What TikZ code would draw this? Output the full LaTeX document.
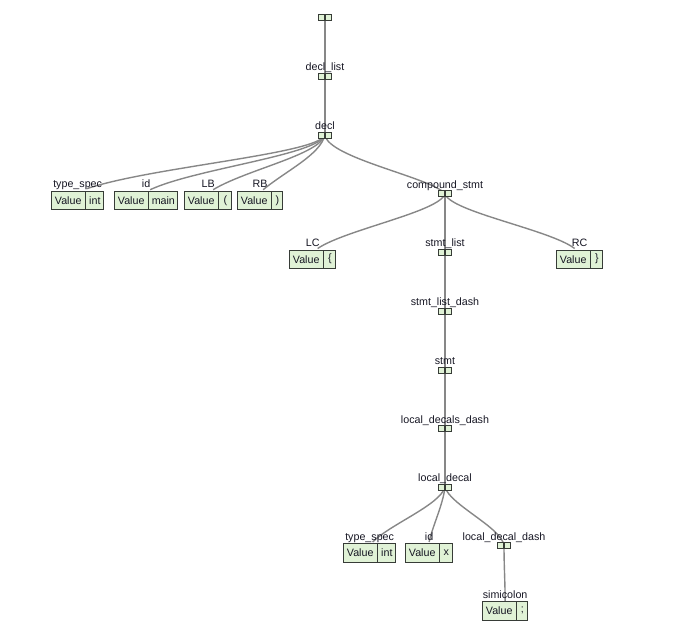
\documentclass[tikz,border=0pt]{standalone}
\usepackage{fontspec}
\setmainfont{Liberation Sans}
\usetikzlibrary{calc,backgrounds}
\definecolor{boxfill}{RGB}{224,242,214}
\definecolor{boxline}{RGB}{55,60,55}
\definecolor{edgecol}{RGB}{135,135,135}
\definecolor{txt}{RGB}{22,22,35}
\tikzset{
  lbl/.style={inner sep=0pt, font=\fontsize{10.7}{12}\selectfont, text=txt, anchor=base},
  field/.style={draw=boxline, fill=boxfill, line width=0.9pt, inner sep=0pt,
    minimum height=18.5pt, anchor=north west, font=\fontsize{10.7}{12}\selectfont, text=txt},
  port/.style={draw=boxline, fill=boxfill, line width=0.9pt, inner sep=0pt,
    minimum width=6pt, minimum height=6pt},
  conn/.style={draw=edgecol, line width=1.4pt},
}
% inner tree node: name, x, y (centre), label
\newcommand\treenode[4]{%
  \node[port, anchor=east] (#1a) at (#2,#3) {};
  \node[port, anchor=west] (#1b) at (#2,#3) {};
  \coordinate (#1) at (#2,#3);
  \node[lbl] (#1l) at (#2,#3-5.5) {#4};
}
% leaf record: name, left x, top y, label, value text, second field width
\newcommand\leafnode[6]{%
  \node[field, minimum width=33.5pt] (#1) at (#2,#3) {Value};
  \node[field, minimum width=#6pt] (#1v) at (#1.north east) {#5};
  \coordinate (#1top) at ($(#1.north west)!0.5!(#1v.north east)$);
  \node[lbl] (#1l) at ($(#1top)+(0,-2.8)$) {#4};
}
\begin{document}
\begin{tikzpicture}[x=1pt,y=-1pt]
\useasboundingbox (0,0) rectangle (694,622);
% inner nodes
\treenode{root}{325}{17}{}
\treenode{dl}{325}{76}{decl\_list}
\treenode{decl}{325}{135}{decl}
\treenode{cs}{445}{193.7}{compound\_stmt}
\treenode{sl}{445}{252}{stmt\_list}
\treenode{sld}{445}{311}{stmt\_list\_dash}
\treenode{st}{445}{370}{stmt}
\treenode{ldsd}{445}{428.5}{local\_decals\_dash}
\treenode{ld}{445}{487}{local\_decal}
\treenode{ldd}{504}{545.7}{local\_decal\_dash}
% leaves
\leafnode{ts}{51}{190.7}{type\_spec}{int}{18}
\leafnode{id}{114}{190.7}{id}{main}{29}
\leafnode{lb}{184}{190.7}{LB}{(}{13}
\leafnode{rb}{237}{190.7}{RB}{)}{11}
\leafnode{lc}{289}{249.5}{LC}{\{}{12}
\leafnode{rc}{556}{249.5}{RC}{\}}{12}
\leafnode{tsb}{343}{543}{type\_spec}{int}{18}
\leafnode{idb}{405}{543}{id}{x}{13}
\leafnode{sc}{482}{601}{simicolon}{;}{11}
% connectors
\begin{scope}[on background layer]
\draw[conn] (root) -- (dl);
\draw[conn] (dl) -- (decl);
\draw[conn] (decl) .. controls +(-7,19) and +(66,-22) .. ($(tstop)+(9,-2)$);
\draw[conn] (decl) .. controls +(-7,20) and +(45,-21) .. ($(idtop)+(4,-1)$);
\draw[conn] (decl) .. controls +(-6,20) and +(33,-20) .. ($(lbtop)+(5,-1)$);
\draw[conn] (decl) .. controls +(-5,20) and +(23,-19) .. ($(rbtop)+(3,-1)$);
\draw[conn] (decl) .. controls +(3,23) and +(-13,-16) .. (cs);
\draw[conn] (cs) .. controls +(-5,18) and +(28,-19) .. ($(lctop)+(5,-1)$);
\draw[conn] (cs) -- (sl);
\draw[conn] (cs) .. controls +(5,18) and +(-25,-19) .. ($(rctop)+(-5,-1)$);
\draw[conn] (sl) -- (sld);
\draw[conn] (sld) -- (st);
\draw[conn] (st) -- (ldsd);
\draw[conn] (ldsd) -- (ld);
\draw[conn] (ld) .. controls +(-5,18) and +(18,-18) .. ($(tsbtop)+(3,-1)$);
\draw[conn] (ld) .. controls +(-2,18) and +(3,-15) .. ($(idbtop)+(0,-1)$);
\draw[conn] (ld) .. controls +(5,18) and +(-2,-18) .. (ldd);
\draw[conn] (ldd) .. controls +(0,20) and +(0,-20) .. ($(sctop)+(0,2)$);
\end{scope}
\end{tikzpicture}
\end{document}
